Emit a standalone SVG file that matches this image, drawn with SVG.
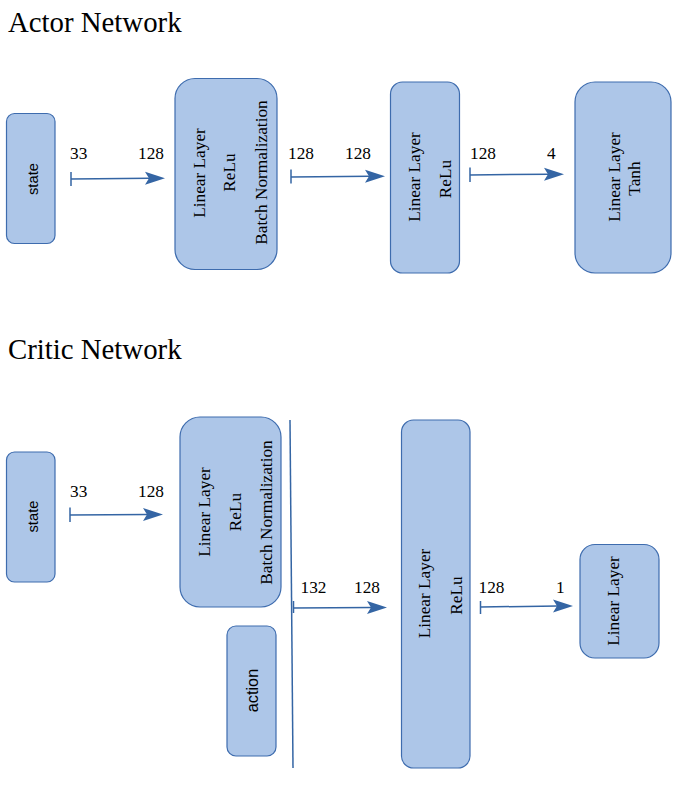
<svg xmlns="http://www.w3.org/2000/svg" width="691" height="791" viewBox="0 0 691 791">
<style>
.box{fill:#adc6e8;stroke:#3e6cae;stroke-width:1.2}
.t{font-family:"Liberation Serif",serif;font-size:17.3px;fill:#000}
.s{font-family:"Liberation Sans",sans-serif;fill:#000}
.title{font-family:"Liberation Serif",serif;font-size:28.8px;fill:#000}
.ln{stroke:#3465a4;stroke-width:1.5;fill:none}
.hd{fill:#3465a4}
</style>
<rect width="691" height="791" fill="#fff"/>
<text class="title" x="8" y="32">Actor Network</text>
<text class="title" x="8" y="359">Critic Network</text>

<g id="actor-state">
<rect class="box" x="6.5" y="113.5" width="48.5" height="130" rx="8"/>
<text class="s" font-size="14.8" text-anchor="middle" transform="translate(37.5,179) rotate(-90)">state</text>
</g>
<g id="actor-fc1">
<rect class="box" x="175" y="78.5" width="102" height="191" rx="20"/>
<g class="t" text-anchor="middle">
<text transform="translate(205,173) rotate(-90)">Linear Layer</text>
<text transform="translate(234.5,172.5) rotate(-90)">ReLu</text>
<text transform="translate(266.5,172.5) rotate(-90)">Batch Normalization</text>
</g>
</g>
<g id="actor-fc2">
<rect class="box" x="390.5" y="82" width="69" height="191" rx="12"/>
<g class="t" text-anchor="middle">
<text transform="translate(420,177) rotate(-90)">Linear Layer</text>
<text transform="translate(451,179) rotate(-90)">ReLu</text>
</g>
</g>
<g id="actor-fc3">
<rect class="box" x="575" y="82" width="96" height="191" rx="20"/>
<g class="t" text-anchor="middle">
<text transform="translate(620,177) rotate(-90)">Linear Layer</text>
<text transform="translate(640,178.5) rotate(-90)">Tanh</text>
</g>
</g>

<g id="critic-state">
<rect class="box" x="6.5" y="452" width="48.5" height="130" rx="8"/>
<text class="s" font-size="14.8" text-anchor="middle" transform="translate(37.5,516.5) rotate(-90)">state</text>
</g>
<g id="critic-fc1">
<rect class="box" x="180" y="417" width="101" height="190" rx="20"/>
<g class="t" text-anchor="middle">
<text transform="translate(210,512) rotate(-90)">Linear Layer</text>
<text transform="translate(241,512) rotate(-90)">ReLu</text>
<text transform="translate(272,512.5) rotate(-90)">Batch Normalization</text>
</g>
</g>
<g id="critic-action">
<rect class="box" x="227" y="626" width="49" height="130" rx="9"/>
<text class="s" font-size="16.3" text-anchor="middle" transform="translate(258,690.5) rotate(-90)">action</text>
</g>
<g id="critic-fc2">
<rect class="box" x="401.5" y="420" width="68.5" height="348" rx="12"/>
<g class="t" text-anchor="middle">
<text transform="translate(430,593.5) rotate(-90)">Linear Layer</text>
<text transform="translate(461.5,595.5) rotate(-90)">ReLu</text>
</g>
</g>
<g id="critic-fc3">
<rect class="box" x="580" y="544.5" width="79" height="113.5" rx="15"/>
<text class="t" text-anchor="middle" transform="translate(619,601) rotate(-90)">Linear Layer</text>
</g>

<g id="connectors">
<!-- actor 1 -->
<path class="ln" d="M71,172V186M71,179L150,178.3"/>
<polygon class="hd" points="165,178.3 145,171.8 149,178.3 145,184.8"/>
<!-- actor 2 -->
<path class="ln" d="M291,169.5V183.5M291,177L370,176.2"/>
<polygon class="hd" points="385,176.2 365,169.7 369,176.2 365,182.7"/>
<!-- actor 3 -->
<path class="ln" d="M470,167.5V182M470,175L549,174.2"/>
<polygon class="hd" points="564,174.2 544,167.7 548,174.2 544,180.7"/>
<!-- critic 1 -->
<path class="ln" d="M70,507.5V522M70,515L148,514.5"/>
<polygon class="hd" points="163,514.5 143,508 147,514.5 143,521"/>
<!-- critic merge line -->
<path class="ln" d="M290,420L293,768" stroke-width="2"/>
<path class="ln" d="M293.5,601V613" stroke-width="3"/>
<path class="ln" d="M293,608L372,607.5"/>
<polygon class="hd" points="387,607.5 367,601 371,607.5 367,614"/>
<!-- critic 3 -->
<path class="ln" d="M480.5,601V614M480.5,607L558,606"/>
<polygon class="hd" points="573,606 553,599.5 557,606 553,612.5"/>
</g>

<g class="t">
<text x="70" y="158.5">33</text>
<text x="138" y="158.5">128</text>
<text x="288" y="158.5">128</text>
<text x="345" y="158.5">128</text>
<text x="470" y="158.5">128</text>
<text x="547" y="158.5">4</text>
<text x="70" y="497">33</text>
<text x="138" y="497">128</text>
<text x="300.5" y="593">132</text>
<text x="354" y="593">128</text>
<text x="478.5" y="593">128</text>
<text x="556" y="593">1</text>
</g>
</svg>
